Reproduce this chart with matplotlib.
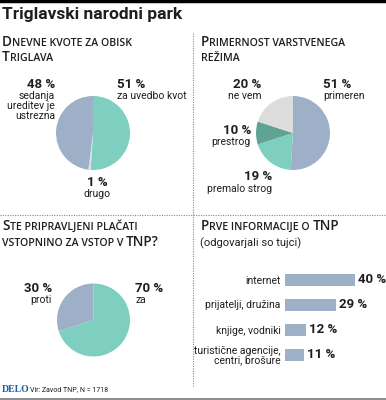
import matplotlib
matplotlib.use("Agg")
import matplotlib.pyplot as plt
from matplotlib.lines import Line2D

W, H = 386, 400

# data
kvote_labels = ["za uvedbo kvot", "drugo", "sedanja\nureditev je\nustrezna"]
kvote_values = [51, 1, 48]

rezim_labels = ["primeren", "premalo strog", "prestrog", "ne vem"]
rezim_values = [51, 19, 10, 20]

vstopnina_labels = ["za", "proti"]
vstopnina_values = [70, 30]

info_labels = ["internet", "prijatelji, družina", "knjige, vodniki",
               "turistične agencije,\ncentri, brošure"]
info_values = [40, 29, 12, 11]

TEAL = "#7fcfc0"
BLUE = "#9db0c8"
GRAY = "#dcdcdc"
DTEAL = "#5fa394"
INK = "#1e1e1e"
NARROW = ["Roboto", "DejaVu Sans"]

fig = plt.figure(figsize=(W / 100, H / 100), dpi=100)
fig.patch.set_facecolor("white")


def fx(x):
    return x / W


def fy(y):
    return 1 - y / H


def px_axes(x0, y0, x1, y1):
    return fig.add_axes([fx(x0), fy(y1), (x1 - x0) / W, (y1 - y0) / H])


def label(x, y, pct, txt, ha):
    fig.text(fx(x), fy(y), pct, ha=ha, va="center", fontsize=9.5,
             fontweight="bold", family=NARROW, color=INK)
    fig.text(fx(x), fy(y + 7), txt, ha=ha, va="top", fontsize=7.5,
             family=NARROW, color=INK, linespacing=1.0)


def header(x, y, pieces):
    r = fig.canvas.get_renderer()
    for s, big in pieces:
        t = fig.text(fx(x), fy(y), s, fontsize=9.8 if big else 7.6,
                     va="baseline", color=INK, fontweight="semibold",
                     family=["Open Sans", "DejaVu Sans"])
        x += t.get_window_extent(r).width


# frame lines
fig.add_artist(Line2D([0, 1], [fy(1), fy(1)], color="black", lw=2.5))
fig.add_artist(Line2D([0, 1], [fy(398.5), fy(398.5)], color="#777777", lw=1.2))
fig.add_artist(Line2D([fx(193), fx(193)], [fy(33), fy(386)], color="#888888",
                      lw=0.8, ls=(0, (1, 1.2))))
fig.add_artist(Line2D([0, 1], [fy(215), fy(215)], color="#888888",
                      lw=0.8, ls=(0, (1, 1.2))))

fig.text(fx(2), fy(15), "Triglavski narodni park", fontsize=12.5,
         fontweight="bold", family=NARROW, va="center", color=INK)

header(2, 46, [("D", True), ("NEVNE KVOTE ZA OBISK", False)])
header(2, 61, [("T", True), ("RIGLAVA", False)])
header(201, 46, [("P", True), ("RIMERNOST VARSTVENEGA", False)])
header(201, 61, [("REŽIMA", False)])
header(2, 230, [("S", True), ("TE PRIPRAVLJENI PLAČATI", False)])
header(2, 246, [("VSTOPNINO ZA VSTOP V ", False), ("TNP?", True)])
header(201, 230, [("P", True), ("RVE INFORMACIJE O ", False), ("TNP", True)])
fig.text(fx(200), fy(243), "(odgovarjali so tujci)", fontsize=8,
         family=NARROW, va="center", color=INK)

# pie 1
ax = px_axes(56, 96, 130, 170)
ax.pie(kvote_values, colors=[TEAL, GRAY, BLUE], startangle=90,
       counterclock=False, radius=1)
ax.set_xlim(-1, 1)
ax.set_ylim(-1, 1)
label(55, 84, f"{kvote_values[2]} %", kvote_labels[2], "right")
label(117, 84, f"{kvote_values[0]} %", kvote_labels[0], "left")
label(97, 182, f"{kvote_values[1]} %", kvote_labels[1], "center")

# pie 2
ax = px_axes(256, 96, 330, 170)
ax.pie(rezim_values, colors=[BLUE, TEAL, DTEAL, GRAY], startangle=90,
       counterclock=False, radius=1)
ax.set_xlim(-1, 1)
ax.set_ylim(-1, 1)
label(323, 84, f"{rezim_values[0]} %", rezim_labels[0], "left")
label(261, 84, f"{rezim_values[3]} %", rezim_labels[3], "right")
label(251, 130, f"{rezim_values[2]} %", rezim_labels[2], "right")
label(272, 177, f"{rezim_values[1]} %", rezim_labels[1], "right")

# pie 3
ax = px_axes(57, 283, 130, 357)
ax.pie(vstopnina_values, colors=[TEAL, BLUE], startangle=90,
       counterclock=False, radius=1)
ax.set_xlim(-1, 1)
ax.set_ylim(-1, 1)
label(135, 288, f"{vstopnina_values[0]} %", vstopnina_labels[0], "left")
label(52, 288, f"{vstopnina_values[1]} %", vstopnina_labels[1], "right")

# bars
ax = px_axes(285, 267, 386, 367)
pos = list(range(len(info_values)))
ax.barh(pos, info_values, height=0.48, color=BLUE)
ax.set_xlim(0, 101 / 1.75)
ax.set_ylim(len(info_values) - 0.5, -0.5)
ax.set_yticks(pos)
ax.set_yticklabels(info_labels, fontsize=7.5, family=NARROW, color=INK,
                   linespacing=1.0)
ax.tick_params(axis="y", length=0, pad=3)
ax.set_xticks([])
for s in ax.spines.values():
    s.set_visible(False)
ax.patch.set_alpha(0)
for p, v in zip(pos, info_values):
    ax.annotate(f"{v} %", (v, p), xytext=(2, 0), textcoords="offset points",
                va="center", ha="left", fontsize=9.5, fontweight="bold",
                family=NARROW, color=INK)

fig.text(fx(2), fy(390), "DELO", fontsize=7, fontweight="bold",
         family="Liberation Serif", color="#1f5fa6", va="center")
fig.text(fx(30), fy(390), "Vir: Zavod TNP, N = 1718", fontsize=5,
         family=NARROW, color=INK, va="center")

fig.savefig("out.png", dpi=100)
